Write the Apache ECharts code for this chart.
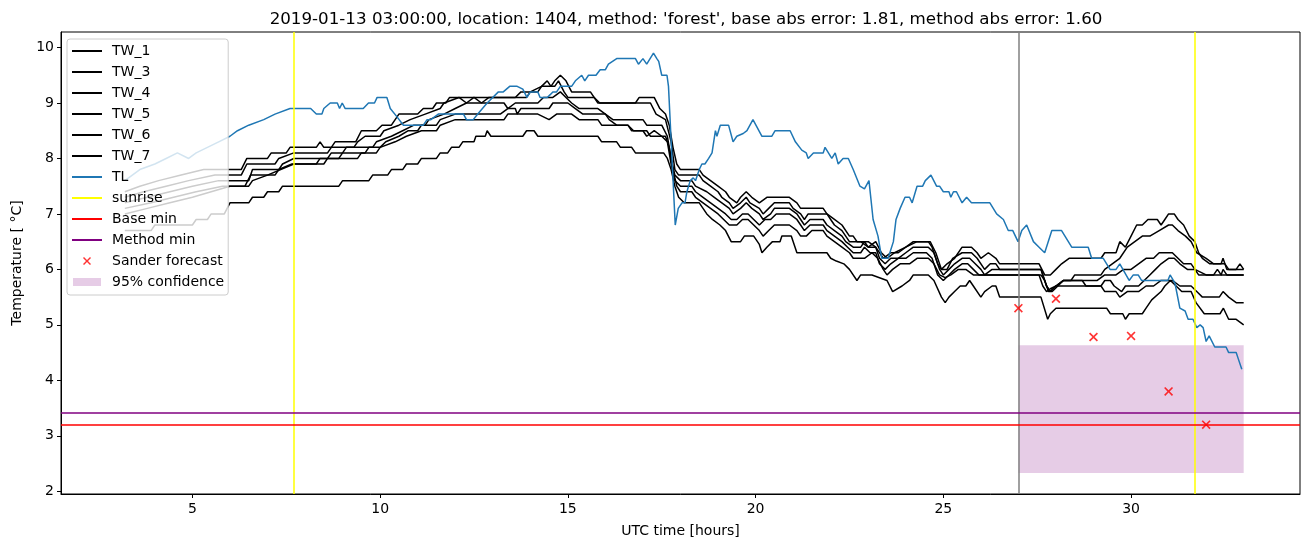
<!DOCTYPE html>
<html><head><meta charset="utf-8">
<script src="https://cdn.jsdelivr.net/npm/echarts@6/dist/echarts.min.js"></script>
<style>html,body{margin:0;padding:0;background:#fff}#c{width:1310px;height:547px}</style>
</head><body><div id="c"></div>
<script>
// ---------- data ----------
const titleText = "2019-01-13 03:00:00, location: 1404, method: 'forest', base abs error: 1.81, method abs error: 1.60";
const xTicks = [5, 10, 15, 20, 25, 30];
const yTicks = [2, 3, 4, 5, 6, 7, 8, 9, 10];

const tw1 = [[3.2,7.4],[3.6,7.5],[4.1,7.6],[4.7,7.7],[5.3,7.8],[6.3,7.8],[6.45,8.0],[7.0,8.0],[7.1,8.1],[7.5,8.1],[7.6,8.2],[8.3,8.2],[8.4,8.3],[8.5,8.2],[8.7,8.2],[8.8,8.3],[9.35,8.3],[9.5,8.5],[9.9,8.5],[10.05,8.6],[10.3,8.6],[10.5,8.8],[11.0,8.8],[11.15,8.9],[11.4,8.9],[11.5,9.0],[11.75,9.0],[11.85,9.1],[13.6,9.1],[13.75,9.2],[14.2,9.2],[14.3,9.3],[14.45,9.4],[14.55,9.3],[14.65,9.4],[14.8,9.5],[14.95,9.4],[15.1,9.2],[15.6,9.2],[15.8,9.0],[16.8,9.0],[16.9,9.1],[17.3,9.1],[17.45,8.9],[17.6,8.8],[17.7,8.6],[17.8,8.2],[17.9,7.9],[18.0,7.8],[18.5,7.8],[18.6,7.7],[18.8,7.6],[19.0,7.5],[19.2,7.4],[19.3,7.3],[19.5,7.2],[19.6,7.3],[19.75,7.4],[19.9,7.3],[20.1,7.2],[20.3,7.3],[20.9,7.3],[21.1,7.2],[21.2,7.1],[21.8,7.1],[21.9,7.0],[22.1,6.9],[22.3,6.8],[22.5,6.6],[22.6,6.6],[22.7,6.5],[23.0,6.5],[23.2,6.4],[23.4,6.2],[23.6,6.3],[23.8,6.3],[24.0,6.4],[24.2,6.5],[24.65,6.5],[24.8,6.3],[24.95,6.0],[25.1,6.1],[25.3,6.2],[25.5,6.4],[25.75,6.4],[25.9,6.3],[26.0,6.2],[26.2,6.3],[26.4,6.2],[26.5,6.1],[27.55,6.1],[27.7,5.9],[27.85,5.9],[28.0,6.0],[28.15,6.1],[28.35,6.2],[29.2,6.2],[29.3,6.3],[29.6,6.3],[29.7,6.5],[29.85,6.4],[30.0,6.6],[30.15,6.8],[30.3,6.8],[30.45,6.9],[30.7,6.9],[30.8,6.8],[30.9,6.9],[31.0,7.0],[31.15,7.0],[31.25,6.9],[31.4,6.8],[31.55,6.6],[31.7,6.5],[31.8,6.3],[31.9,6.2],[32.1,6.1],[32.4,6.1],[32.45,6.2],[32.55,6.0],[32.8,6.0],[32.9,6.1],[33.0,6.0]];
const tw3 = [[3.2,7.3],[3.7,7.4],[4.3,7.5],[4.9,7.6],[5.6,7.7],[6.3,7.7],[6.45,7.9],[7.2,7.9],[7.3,8.0],[7.7,8.1],[8.6,8.1],[8.7,8.2],[9.3,8.2],[9.4,8.3],[9.6,8.4],[10.0,8.4],[10.1,8.5],[10.5,8.6],[10.8,8.7],[11.2,8.8],[11.6,8.9],[11.7,9.0],[12.1,9.1],[12.3,9.0],[12.5,9.1],[12.7,9.0],[12.9,9.1],[13.9,9.1],[14.0,9.2],[14.3,9.3],[14.65,9.3],[14.75,9.4],[14.9,9.2],[15.0,9.1],[15.7,9.1],[15.85,9.0],[17.2,9.0],[17.35,8.8],[17.6,8.7],[17.75,8.3],[17.85,7.8],[17.95,7.7],[18.5,7.7],[18.6,7.6],[18.8,7.5],[19.0,7.4],[19.1,7.3],[19.3,7.2],[19.4,7.1],[19.6,7.2],[19.75,7.3],[19.85,7.2],[20.1,7.1],[20.2,7.0],[20.35,7.1],[20.5,7.2],[20.9,7.2],[21.0,7.1],[21.2,7.0],[21.3,6.9],[21.4,7.0],[21.9,7.0],[22.0,6.9],[22.1,6.8],[22.3,6.7],[22.5,6.5],[22.8,6.5],[23.0,6.4],[23.2,6.5],[23.35,6.3],[23.5,6.2],[23.7,6.3],[24.0,6.4],[24.3,6.5],[24.6,6.5],[24.7,6.4],[24.85,6.1],[24.95,6.0],[25.1,6.0],[25.25,6.2],[25.5,6.3],[25.75,6.3],[25.9,6.2],[26.1,6.0],[26.25,6.1],[26.4,6.1],[26.5,6.0],[27.6,6.0],[27.75,5.7],[27.85,5.6],[28.0,5.7],[28.2,5.8],[28.4,5.8],[28.5,5.9],[29.2,5.9],[29.3,6.0],[29.5,6.1],[29.7,6.2],[29.9,6.4],[30.1,6.5],[30.3,6.6],[30.5,6.6],[30.75,6.7],[31.0,6.8],[31.1,6.8],[31.25,6.7],[31.45,6.6],[31.6,6.5],[31.75,6.3],[32.0,6.2],[32.2,6.1],[32.5,6.1],[32.6,6.0],[33.0,6.0]];
const tw4 = [[3.2,7.2],[3.8,7.3],[4.4,7.4],[5.0,7.5],[5.7,7.6],[6.5,7.6],[6.6,7.8],[7.3,7.8],[7.4,7.9],[7.7,8.0],[8.6,8.0],[8.7,8.1],[9.0,8.1],[9.1,8.2],[9.8,8.2],[9.9,8.3],[10.3,8.4],[10.6,8.5],[10.9,8.6],[11.2,8.6],[11.3,8.7],[11.7,8.8],[12.0,8.9],[12.3,9.0],[13.3,9.0],[13.4,8.9],[13.6,9.0],[14.2,9.0],[14.35,9.1],[14.6,9.1],[14.8,9.2],[14.95,9.1],[15.1,9.0],[15.3,8.9],[15.8,8.9],[16.0,8.8],[16.2,8.7],[17.0,8.7],[17.1,8.6],[17.5,8.6],[17.65,8.4],[17.75,8.0],[17.85,7.7],[18.0,7.6],[18.3,7.6],[18.4,7.5],[18.7,7.4],[18.9,7.3],[19.1,7.2],[19.3,7.1],[19.4,7.0],[19.6,7.1],[19.75,7.2],[19.9,7.1],[20.1,7.0],[20.2,6.9],[20.4,7.0],[20.5,7.1],[20.9,7.1],[21.1,7.0],[21.2,6.9],[21.3,6.8],[21.45,6.9],[21.8,6.9],[21.9,6.8],[22.1,6.7],[22.3,6.6],[22.4,6.5],[22.6,6.4],[22.8,6.4],[22.9,6.5],[23.0,6.4],[23.2,6.4],[23.3,6.2],[23.45,6.1],[23.6,6.2],[23.8,6.2],[24.0,6.3],[24.2,6.4],[24.6,6.4],[24.75,6.3],[24.9,6.0],[25.0,5.9],[25.15,6.0],[25.3,6.1],[25.5,6.2],[25.7,6.2],[25.85,6.1],[26.0,6.0],[26.1,5.9],[26.3,6.0],[26.45,6.0],[26.55,6.0],[27.6,6.0],[27.75,5.7],[27.85,5.6],[28.0,5.7],[28.2,5.8],[29.1,5.8],[29.3,5.9],[29.6,5.9],[29.8,6.0],[30.0,6.0],[30.2,6.1],[30.4,6.2],[30.6,6.2],[30.75,6.3],[31.1,6.3],[31.25,6.2],[31.4,6.1],[31.6,6.1],[31.7,6.0],[32.0,5.9],[32.4,5.9],[32.45,6.0],[32.55,5.9],[33.0,5.9]];
const tw5 = [[3.2,7.1],[3.9,7.2],[4.5,7.3],[5.1,7.4],[5.8,7.5],[6.4,7.5],[6.55,7.7],[7.2,7.7],[7.3,7.8],[7.65,7.9],[8.3,7.9],[8.4,8.0],[8.9,8.0],[9.0,8.1],[9.6,8.1],[9.7,8.2],[10.0,8.2],[10.15,8.3],[10.5,8.4],[10.75,8.5],[11.0,8.5],[11.1,8.6],[11.5,8.6],[11.6,8.7],[12.0,8.8],[13.2,8.8],[13.4,8.9],[13.6,8.9],[13.65,8.8],[13.75,8.9],[14.5,8.9],[14.6,9.0],[15.0,9.0],[15.2,8.9],[15.4,8.8],[16.0,8.8],[16.1,8.7],[16.3,8.6],[16.6,8.6],[16.7,8.5],[17.0,8.5],[17.1,8.4],[17.3,8.5],[17.5,8.4],[17.65,8.3],[17.75,7.9],[17.85,7.6],[18.0,7.5],[18.3,7.5],[18.4,7.4],[18.6,7.3],[18.8,7.2],[19.0,7.1],[19.2,7.0],[19.35,6.9],[19.5,6.9],[19.65,7.0],[19.8,7.0],[19.95,6.9],[20.1,6.8],[20.25,6.9],[20.4,6.9],[20.55,7.0],[20.9,7.0],[21.1,6.9],[21.2,6.8],[21.3,6.7],[21.45,6.8],[21.8,6.8],[21.9,6.7],[22.1,6.6],[22.3,6.5],[22.45,6.4],[22.6,6.3],[22.8,6.3],[22.9,6.4],[23.05,6.3],[23.2,6.3],[23.3,6.1],[23.45,6.0],[23.6,6.1],[23.8,6.2],[24.0,6.2],[24.2,6.3],[24.55,6.3],[24.7,6.2],[24.85,5.9],[25.0,5.8],[25.15,5.9],[25.3,6.0],[25.5,6.1],[25.65,6.1],[25.8,6.0],[25.95,5.9],[27.6,5.9],[27.7,5.8],[27.8,5.6],[27.9,5.6],[28.05,5.7],[28.2,5.8],[28.7,5.8],[28.8,5.7],[29.2,5.7],[29.3,5.8],[29.45,5.8],[29.55,5.7],[29.75,5.6],[29.85,5.7],[30.2,5.7],[30.35,5.8],[30.5,5.9],[30.65,6.0],[30.8,6.1],[31.0,6.2],[31.15,6.2],[31.3,6.1],[31.5,6.0],[31.7,6.0],[31.8,5.9],[32.2,5.9],[32.3,6.0],[32.4,5.9],[33.0,5.9]];
const tw6 = [[3.2,7.0],[3.8,7.1],[4.4,7.2],[5.0,7.3],[5.5,7.4],[6.0,7.5],[6.5,7.5],[6.6,7.6],[7.0,7.7],[7.7,7.9],[8.5,7.9],[8.6,8.0],[9.4,8.0],[9.5,8.1],[9.9,8.1],[10.0,8.2],[10.4,8.3],[10.7,8.4],[11.1,8.5],[11.5,8.5],[11.6,8.6],[12.0,8.7],[13.3,8.7],[13.4,8.8],[14.2,8.8],[14.5,8.7],[14.7,8.8],[15.1,8.8],[15.3,8.7],[15.8,8.7],[15.9,8.6],[16.6,8.6],[16.75,8.5],[17.1,8.5],[17.2,8.4],[17.6,8.4],[17.7,8.2],[17.8,7.8],[17.9,7.5],[18.0,7.4],[18.3,7.4],[18.4,7.3],[18.6,7.2],[18.8,7.1],[19.0,7.0],[19.15,6.9],[19.3,6.8],[19.5,6.8],[19.65,6.9],[19.8,6.9],[19.95,6.8],[20.1,6.7],[20.2,6.6],[20.35,6.7],[20.5,6.8],[20.9,6.8],[21.1,6.7],[21.2,6.6],[21.35,6.6],[21.5,6.7],[21.8,6.7],[21.9,6.6],[22.1,6.5],[22.3,6.4],[22.5,6.3],[22.6,6.2],[22.9,6.2],[23.1,6.3],[23.25,6.2],[23.4,6.0],[23.5,5.9],[23.65,6.0],[23.85,6.1],[24.1,6.1],[24.3,6.2],[24.6,6.2],[24.75,6.1],[24.9,5.9],[25.05,5.85],[25.2,5.9],[25.4,6.0],[25.6,6.0],[25.8,5.9],[27.55,5.9],[27.65,5.7],[27.75,5.6],[27.85,5.65],[28.0,5.7],[29.2,5.7],[29.3,5.6],[29.6,5.6],[29.7,5.5],[29.9,5.6],[30.2,5.6],[30.4,5.7],[30.6,5.7],[30.8,5.8],[31.1,5.8],[31.3,5.7],[31.6,5.7],[31.75,5.6],[31.9,5.5],[32.35,5.5],[32.45,5.6],[32.6,5.5],[32.8,5.4],[33.0,5.4]];
const tw7 = [[3.2,6.7],[3.9,6.7],[4.0,6.8],[5.0,6.8],[5.1,6.9],[5.4,6.9],[5.5,7.0],[5.85,7.0],[6.0,7.2],[6.5,7.2],[6.6,7.3],[6.9,7.3],[7.0,7.4],[7.3,7.4],[7.4,7.5],[8.9,7.5],[9.0,7.6],[9.7,7.6],[9.8,7.7],[10.2,7.7],[10.3,7.8],[10.6,7.8],[10.7,7.9],[11.0,7.9],[11.1,8.0],[11.5,8.0],[11.6,8.1],[11.8,8.1],[11.9,8.2],[12.1,8.2],[12.2,8.3],[12.5,8.3],[12.55,8.4],[12.8,8.4],[12.85,8.5],[12.95,8.4],[13.8,8.4],[13.9,8.5],[14.1,8.5],[14.2,8.4],[15.8,8.4],[15.9,8.3],[16.3,8.3],[16.4,8.2],[16.7,8.2],[16.8,8.1],[17.55,8.1],[17.65,8.0],[17.75,7.8],[17.85,7.5],[17.95,7.3],[18.1,7.2],[18.5,7.2],[18.6,7.1],[18.7,7.0],[18.85,6.9],[19.05,6.8],[19.2,6.7],[19.35,6.5],[19.6,6.5],[19.7,6.6],[19.95,6.6],[20.1,6.45],[20.17,6.3],[20.3,6.4],[20.45,6.5],[20.65,6.5],[20.7,6.6],[20.95,6.6],[21.1,6.3],[21.9,6.3],[22.0,6.2],[22.15,6.15],[22.35,6.1],[22.5,6.0],[22.7,5.8],[22.8,5.9],[23.1,5.9],[23.5,5.8],[23.65,5.6],[23.9,5.7],[24.1,5.8],[24.2,5.9],[24.6,5.9],[24.75,5.8],[24.95,5.5],[25.05,5.4],[25.15,5.5],[25.3,5.6],[25.45,5.7],[25.6,5.7],[25.7,5.8],[25.8,5.7],[26.0,5.5],[26.1,5.6],[26.3,5.7],[26.4,5.7],[26.5,5.5],[27.6,5.5],[27.78,5.1],[27.85,5.2],[28.0,5.3],[29.35,5.3],[29.45,5.2],[29.78,5.2],[29.85,5.1],[29.95,5.2],[30.3,5.2],[30.4,5.3],[30.55,5.45],[30.8,5.6],[30.9,5.7],[31.05,5.8],[31.2,5.7],[31.35,5.6],[31.6,5.6],[31.73,5.4],[31.95,5.2],[32.37,5.2],[32.46,5.3],[32.6,5.1],[32.8,5.1],[33.0,5.0]];
const tl = [[3.2,7.6],[3.4,7.7],[3.6,7.8],[4.0,7.9],[4.3,8.0],[4.6,8.1],[4.9,8.0],[5.1,8.1],[5.4,8.2],[5.7,8.3],[6.0,8.4],[6.2,8.5],[6.5,8.6],[6.9,8.7],[7.2,8.8],[7.6,8.9],[8.15,8.9],[8.3,8.8],[8.45,8.8],[8.5,8.9],[8.67,9.0],[8.86,9.0],[8.92,8.9],[8.99,9.0],[9.07,8.9],[9.55,8.9],[9.69,9.0],[9.85,9.0],[9.92,9.1],[10.18,9.1],[10.27,8.9],[10.45,8.75],[10.62,8.6],[11.15,8.6],[11.25,8.7],[11.35,8.7],[11.55,8.8],[12.22,8.8],[12.3,8.7],[12.48,8.7],[12.6,8.8],[12.85,9.0],[13.15,9.2],[13.28,9.2],[13.45,9.3],[13.65,9.3],[13.8,9.25],[13.91,9.1],[14.0,9.2],[14.2,9.2],[14.26,9.1],[14.45,9.1],[14.53,9.15],[14.6,9.2],[14.7,9.2],[14.8,9.3],[15.1,9.3],[15.2,9.4],[15.37,9.5],[15.45,9.4],[15.55,9.5],[15.75,9.5],[15.86,9.6],[16.0,9.6],[16.08,9.7],[16.3,9.8],[16.8,9.8],[16.88,9.7],[17.0,9.8],[17.1,9.7],[17.28,9.9],[17.37,9.8],[17.42,9.75],[17.5,9.5],[17.64,9.5],[17.68,9.3],[17.86,6.8],[17.94,7.1],[18.04,7.2],[18.12,7.2],[18.17,7.4],[18.26,7.6],[18.34,7.65],[18.4,7.6],[18.5,7.8],[18.57,7.9],[18.65,7.9],[18.75,8.0],[18.84,8.1],[18.93,8.5],[18.97,8.4],[19.06,8.6],[19.28,8.6],[19.4,8.3],[19.5,8.4],[19.67,8.45],[19.77,8.5],[19.93,8.7],[20.17,8.4],[20.43,8.4],[20.52,8.5],[20.92,8.5],[21.06,8.3],[21.23,8.15],[21.35,8.1],[21.4,8.0],[21.54,8.1],[21.8,8.1],[21.85,8.2],[22.03,8.0],[22.12,8.1],[22.2,7.9],[22.33,8.0],[22.47,8.0],[22.6,7.8],[22.78,7.5],[22.9,7.45],[23.02,7.6],[23.13,6.9],[23.26,6.6],[23.36,6.2],[23.53,6.2],[23.67,6.5],[23.74,6.9],[23.85,7.1],[23.98,7.3],[24.1,7.3],[24.17,7.2],[24.3,7.5],[24.45,7.5],[24.52,7.6],[24.67,7.7],[24.82,7.5],[24.9,7.5],[25.0,7.4],[25.15,7.4],[25.2,7.3],[25.27,7.4],[25.35,7.4],[25.5,7.2],[25.62,7.3],[25.75,7.2],[26.24,7.2],[26.42,7.0],[26.6,6.9],[26.73,6.7],[26.85,6.7],[26.99,6.5],[27.09,6.7],[27.22,6.8],[27.27,6.8],[27.4,6.5],[27.55,6.4],[27.7,6.3],[27.89,6.7],[28.15,6.7],[28.42,6.4],[28.86,6.4],[28.95,6.2],[29.26,6.2],[29.44,6.0],[29.6,6.0],[29.7,6.1],[29.95,5.8],[30.06,5.9],[30.19,5.9],[30.28,5.8],[30.98,5.8],[31.04,5.9],[31.17,5.75],[31.3,5.3],[31.44,5.25],[31.52,5.1],[31.65,5.1],[31.75,4.95],[31.84,5.0],[31.92,4.95],[32.0,4.7],[32.08,4.8],[32.23,4.6],[32.53,4.6],[32.6,4.5],[32.8,4.5],[32.85,4.4],[32.95,4.2]];

const sunriseX = [7.7, 31.7];
const forecastX = 27;
const baseMin = 3.2;
const methodMin = 3.41;
const sanderX = [27, 28, 29, 30, 31, 32];
const sanderY = [5.3, 5.47, 4.78, 4.8, 3.8, 3.2];
const confX = [27, 33];
const confY = [2.33, 4.63];

const xRange = [1.5, 34.5];
const yRange = [1.95, 10.28];

// ---------- chart ----------
const FONT = 'DejaVu Sans';
const xPath = 'path://M0,1.3L1.3,0L5,3.7L8.7,0L10,1.3L6.3,5L10,8.7L8.7,10L5,6.3L1.3,10L0,8.7L3.7,5Z';
const xLegendPath = 'path://M0,0M11,3L12,2L15,5L18,2L19,3L16,6L19,9L18,10L15,7L12,10L11,9L14,6ZM30,12';
const lineIcon = 'path://M0,0M0,5L30,5L30,7L0,7ZM30,12';
const rectIcon = 'path://M0,0M1,2L29,2L29,10L1,10ZM30,12';
const chart = echarts.init(document.getElementById('c'), null, {renderer: 'canvas'});

function twSeries(name, data) {
  return {name, type: 'line', data, symbol: 'none', z: 2, animation: false,
    lineStyle: {color: '#000', width: 1.5}, itemStyle: {color: '#000'}};
}
function lgLine(name, color) {
  return {name, icon: lineIcon, itemStyle: {color: color, opacity: 1}};
}

const option = {
  animation: false,
  backgroundColor: '#fff',
  title: {text: titleText, left: 681, top: 6, textAlign: 'center',
    textStyle: {fontFamily: FONT, fontSize: 16.7, fontWeight: 'normal', color: '#000'}},
  grid: {left: 61, right: 10, top: 32, bottom: 53, show: true, borderColor: '#000', borderWidth: 1, containLabel: false},
  xAxis: {type: 'value', min: xRange[0], max: xRange[1],
    name: 'UTC time [hours]', nameLocation: 'middle', nameGap: 30,
    nameTextStyle: {fontFamily: FONT, fontSize: 14, color: '#000'},
    axisLine: {show: true, lineStyle: {color: '#000', width: 1}},
    axisTick: {show: true, length: 4, lineStyle: {color: '#000'}, customValues: xTicks},
    axisLabel: {fontFamily: FONT, fontSize: 14, color: '#000', margin: 8, customValues: xTicks},
    splitLine: {show: false}},
  yAxis: {type: 'value', min: yRange[0], max: yRange[1],
    name: 'Temperature [ °C]', nameLocation: 'middle', nameGap: 37, nameRotate: 90,
    nameTextStyle: {fontFamily: FONT, fontSize: 14, color: '#000'},
    axisLine: {show: true, lineStyle: {color: '#000', width: 1}},
    axisTick: {show: true, length: 4, lineStyle: {color: '#000'}, customValues: yTicks},
    axisLabel: {fontFamily: FONT, fontSize: 14, color: '#000', margin: 7, customValues: yTicks},
    splitLine: {show: false}},
  legend: {
    left: 67, top: 39, orient: 'vertical', itemWidth: 30, itemHeight: 12, itemGap: 7,
    padding: [5, 4, 6, 5], backgroundColor: 'rgba(255,255,255,0.8)', borderColor: '#cccccc',
    borderWidth: 1, borderRadius: 3, z: 10, selectedMode: false,
    textStyle: {fontFamily: FONT, fontSize: 14, color: '#000', lineHeight: 14, padding: [0, 0, 0, 5]},
    data: [lgLine('TW_1', '#000'), lgLine('TW_3', '#000'), lgLine('TW_4', '#000'), lgLine('TW_5', '#000'),
      lgLine('TW_6', '#000'), lgLine('TW_7', '#000'), lgLine('TL', '#1f77b4'), lgLine('sunrise', '#ffff00'),
      lgLine('Base min', '#ff0000'), lgLine('Method min', '#800080'),
      {name: 'Sander forecast', icon: xLegendPath, itemStyle: {color: '#ff0000'}},
      {name: '95% confidence', icon: rectIcon, itemStyle: {color: 'rgba(128,0,128,0.2)'}}]
  },
  series: [
    {name: '95% confidence', type: 'line', data: [], z: 1, symbol: 'none',
      itemStyle: {color: 'rgba(128,0,128,0.2)'},
      markArea: {silent: true, itemStyle: {color: 'rgba(128,0,128,0.2)'},
        data: [[{coord: [confX[0], confY[0]]}, {coord: [confX[1], confY[1]]}]]}},
    twSeries('TW_1', tw1),
    twSeries('TW_3', tw3),
    twSeries('TW_4', tw4),
    twSeries('TW_5', tw5),
    twSeries('TW_6', tw6),
    twSeries('TW_7', tw7),
    {name: 'TL', type: 'line', data: tl, symbol: 'none', z: 3,
      lineStyle: {color: '#1f77b4', width: 1.5}, itemStyle: {color: '#1f77b4'}},
    {name: 'sunrise', type: 'line', data: [], symbol: 'none', z: 4,
      lineStyle: {color: '#ffff00', width: 1.5}, itemStyle: {color: '#ffff00'},
      markLine: {silent: true, symbol: 'none', label: {show: false}, animation: false,
        lineStyle: {color: '#ffff00', width: 1.5, type: 'solid'},
        data: sunriseX.map(v => ({xAxis: v}))}},
    {name: 'forecast time', type: 'line', data: [], symbol: 'none', z: 4,
      markLine: {silent: true, symbol: 'none', label: {show: false}, animation: false,
        lineStyle: {color: '#808080', width: 1.5, type: 'solid'},
        data: [{xAxis: forecastX}]}},
    {name: 'Base min', type: 'line', data: [], symbol: 'none', z: 4,
      lineStyle: {color: '#ff0000', width: 1.5}, itemStyle: {color: '#ff0000'},
      markLine: {silent: true, symbol: 'none', label: {show: false}, animation: false,
        lineStyle: {color: '#ff0000', width: 1.5, type: 'solid'},
        data: [{yAxis: baseMin}]}},
    {name: 'Method min', type: 'line', data: [], symbol: 'none', z: 4,
      lineStyle: {color: '#800080', width: 1.5}, itemStyle: {color: '#800080'},
      markLine: {silent: true, symbol: 'none', label: {show: false}, animation: false,
        lineStyle: {color: '#800080', width: 1.5, type: 'solid'},
        data: [{yAxis: methodMin}]}},
    {name: 'Sander forecast', type: 'scatter', z: 5, symbol: xPath, symbolSize: 9,
      symbolKeepAspect: true, itemStyle: {color: '#ff0000'},
      data: sanderX.map((x, i) => [x, sanderY[i]])}
  ]
};
chart.setOption(option);
</script>
</body></html>
